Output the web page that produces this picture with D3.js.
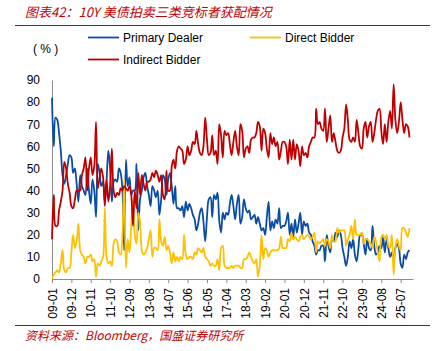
<!DOCTYPE html>
<html>
<head>
<meta charset="utf-8">
<script src="https://cdn.jsdelivr.net/npm/d3@7"></script>
<style>
  body { margin: 0; background: #fff; }
  svg text { font-family: "Liberation Sans", Arial, sans-serif; }
</style>
</head>
<body>
<div id="chart"></div>
<script>
// monthly 10Y auction allotment (%), 2009-01 .. 2025-12
const primaryDealer = [
  82, 60, 73, 72, 66, 58, 47, 43, 47, 52, 56, 55,
  48, 50, 43, 35, 47, 42, 40, 38, 50, 40, 34, 45,
  40, 28, 52, 48, 42, 44, 35, 45, 58, 50, 35, 44,
  45, 44, 50, 48, 40, 13, 54, 42, 46, 38, 40, 40,
  52, 22, 36, 40, 46, 48, 42, 38, 33, 42, 40, 37,
  40, 29, 36, 47, 45, 38, 45, 48, 42, 34, 42, 32,
  32, 31, 33, 28, 35, 31, 34, 32, 29, 27, 22, 25,
  30, 32, 26, 17, 28, 36, 37, 28, 38, 36, 39, 26,
  21, 30, 27, 30, 29, 34, 38, 33, 27, 34, 38, 25,
  28, 36, 32, 30, 31, 27, 28, 29, 25, 28, 25, 22,
  23, 20, 28, 35, 22, 26, 23, 27, 25, 32, 23, 24,
  24, 26, 30, 20, 25, 19, 27, 21, 25, 30, 20, 26,
  24, 25, 21, 20, 17, 15, 11, 13, 13, 15, 15, 8,
  20, 15, 12, 18, 17, 21, 19, 22, 20, 14, 10, 6,
  10, 17, 14, 18, 11, 8, 14, 20, 20, 16, 11, 18,
  14, 13, 24, 15, 11, 12, 15, 14, 19, 12, 18, 14,
  10, 12, 8, 14, 16, 14, 7, 5, 11, 9, 12, 13
];
const directBidder = [
  0, 2, 3, 4, 3, 7, 13, 4, 3, 5, 5, 12,
  20, 14, 17, 25, 13, 11, 10, 7, 10, 10, 11, 8,
  9, 1, 7, 6, 8, 10, 32, 10, 7, 8, 6, 16,
  18, 17, 12, 11, 20, 45, 5, 18, 12, 24, 36, 20,
  16, 30, 26, 13, 11, 12, 14, 18, 22, 10, 14, 14,
  13, 27, 17, 15, 19, 13, 15, 12, 7, 12, 8, 10,
  8, 10, 9, 20, 11, 9, 10, 10, 9, 12, 11, 14,
  13, 12, 14, 10, 9, 8, 6, 7, 6, 6, 9, 4,
  14, 15, 6, 5, 5, 5, 6, 5, 6, 6, 6, 5,
  5, 9, 9, 10, 12, 10, 8, 7, 9, 1, 6, 20,
  9, 14, 13, 10, 12, 13, 13, 13, 13, 14, 19, 14,
  14, 14, 18, 17, 21, 18, 19, 18, 17, 19, 20, 18,
  19, 20, 19, 18, 19, 21, 12, 17, 16, 17, 18, 15,
  18, 17, 14, 20, 17, 17, 23, 21, 22, 22, 22, 15,
  18, 20, 24, 18, 27, 20, 20, 20, 21, 16, 18, 18,
  17, 16, 14, 19, 17, 12, 8, 19, 20, 18, 20, 15,
  14, 20, 2, 14, 18, 15, 13, 23, 23, 21, 19, 23
];
const indirectBidder = [
  18, 38, 24, 24, 31, 35, 40, 53, 50, 43, 39, 33,
  32, 36, 40, 40, 40, 47, 50, 55, 40, 50, 55, 47,
  51, 71, 41, 46, 50, 46, 33, 45, 35, 42, 59, 40,
  37, 39, 38, 41, 40, 42, 41, 40, 42, 38, 24, 40,
  32, 48, 38, 47, 43, 40, 44, 44, 45, 48, 46, 49,
  47, 44, 47, 38, 36, 49, 40, 40, 51, 54, 50, 58,
  60, 59, 58, 52, 54, 60, 56, 58, 62, 61, 67, 61,
  57, 56, 60, 73, 63, 56, 57, 65, 56, 58, 52, 70,
  65, 55, 67, 65, 66, 61, 56, 62, 67, 60, 56, 70,
  67, 55, 59, 60, 57, 63, 64, 64, 66, 71, 69, 58,
  68, 66, 59, 55, 66, 61, 64, 60, 62, 54, 58, 62,
  62, 60, 52, 63, 54, 63, 54, 61, 58, 51, 60, 56,
  57, 55, 60, 62, 64, 64, 77, 70, 71, 68, 67, 77,
  62, 68, 74, 62, 66, 62, 58, 57, 58, 64, 68, 79,
  72, 63, 62, 64, 62, 72, 66, 60, 59, 68, 71, 64,
  69, 71, 62, 66, 72, 76, 77, 67, 61, 70, 62, 71,
  76, 68, 88, 72, 66, 71, 80, 72, 66, 70, 69, 64
];
const tickLabels = ["09-01", "09-12", "10-11", "11-10", "12-09", "13-08", "14-07",
  "15-06", "16-05", "17-04", "18-03", "19-02", "20-01", "20-12", "21-11",
  "22-10", "23-09", "24-08", "25-07"];
const tickStep = 11;  // months between labels
const yTicks = [0, 10, 20, 30, 40, 50, 60, 70, 80, 90];

const series = [
  { name: "Primary Dealer", values: primaryDealer, color: "#0B4DA2" },
  { name: "Direct Bidder", values: directBidder, color: "#FFC000" },
  { name: "Indirect Bidder", values: indirectBidder, color: "#C00000" }
];

const W = 441, H = 351;
const svg = d3.select("#chart").append("svg")
    .attr("width", W)
    .attr("height", H);

// title + rules
svg.append("text")
    .attr("x", 25).attr("y", 17)
    .style("font-family", "'Noto Sans CJK SC', sans-serif")
    .style("font-style", "italic")
    .style("font-size", "13px")
    .attr("fill", "#C00000")
    .text("图表42：10Y 美债拍卖三类竞标者获配情况");

svg.append("line")
    .attr("x1", 15).attr("x2", 430).attr("y1", 25.5).attr("y2", 25.5)
    .attr("stroke", "#C00000").attr("stroke-width", 1.2);

svg.append("line")
    .attr("x1", 15).attr("x2", 430).attr("y1", 325.5).attr("y2", 325.5)
    .attr("stroke", "#C00000").attr("stroke-width", 1.2);

svg.append("text")
    .attr("x", 25).attr("y", 340)
    .style("font-family", "'Noto Sans CJK SC', sans-serif")
    .style("font-style", "italic")
    .style("font-size", "12px")
    .attr("fill", "#C00000")
    .text("资料来源：Bloomberg，国盛证券研究所");

// scales
const n = primaryDealer.length;
const x = d3.scaleLinear()
    .domain([0, 205])
    .range([52, 413]);

const y = d3.scaleLinear()
    .domain([0, 90])
    .range([279, 80]);

// y axis
const yAxis = svg.append("g")
    .attr("transform", "translate(52,0)")
    .call(d3.axisLeft(y).tickValues(yTicks).tickSize(0).tickPadding(12));
yAxis.select(".domain").attr("stroke", "#8c8c8c");
yAxis.selectAll("text")
    .style("font-size", "12px")
    .attr("fill", "#000");

// x axis
const xAxis = svg.append("g")
    .attr("transform", "translate(0,279)")
    .call(d3.axisBottom(x)
        .tickValues(tickLabels.map((d, i) => i * tickStep))
        .tickFormat((d, i) => tickLabels[i])
        .tickSizeInner(4)
        .tickSizeOuter(0));
xAxis.select(".domain").attr("stroke", "#8c8c8c");
xAxis.selectAll(".tick line").attr("stroke", "#8c8c8c");
xAxis.selectAll("text")
    .attr("transform", "rotate(-90)")
    .attr("x", -9)
    .attr("y", 0)
    .attr("dy", "0.35em")
    .style("text-anchor", "end")
    .style("font-size", "12px")
    .attr("fill", "#000");

// lines
const line = d3.line()
    .x((d, i) => x(i))
    .y(d => y(d))
    .curve(d3.curveCatmullRom.alpha(0.5));

series.forEach(s => {
    svg.append("path")
        .datum(s.values)
        .attr("fill", "none")
        .attr("stroke", s.color)
        .attr("stroke-width", 1.8)
        .attr("d", line);
});

// legend
svg.append("text")
    .attr("x", 33).attr("y", 53)
    .style("font-size", "12px")
    .text("( % )");

const legendPos = [[88, 37.5], [250, 37.5], [88, 59.5]];
series.forEach((s, i) => {
    const [lx, ly] = legendPos[i];
    svg.append("line")
        .attr("x1", lx).attr("x2", lx + 31)
        .attr("y1", ly).attr("y2", ly)
        .attr("stroke", s.color).attr("stroke-width", 1.8);
    svg.append("text")
        .attr("x", lx + 35).attr("y", ly + 4)
        .style("font-size", "12px")
        .attr("fill", "#000")
        .text(s.name);
});
</script>
</body>
</html>
